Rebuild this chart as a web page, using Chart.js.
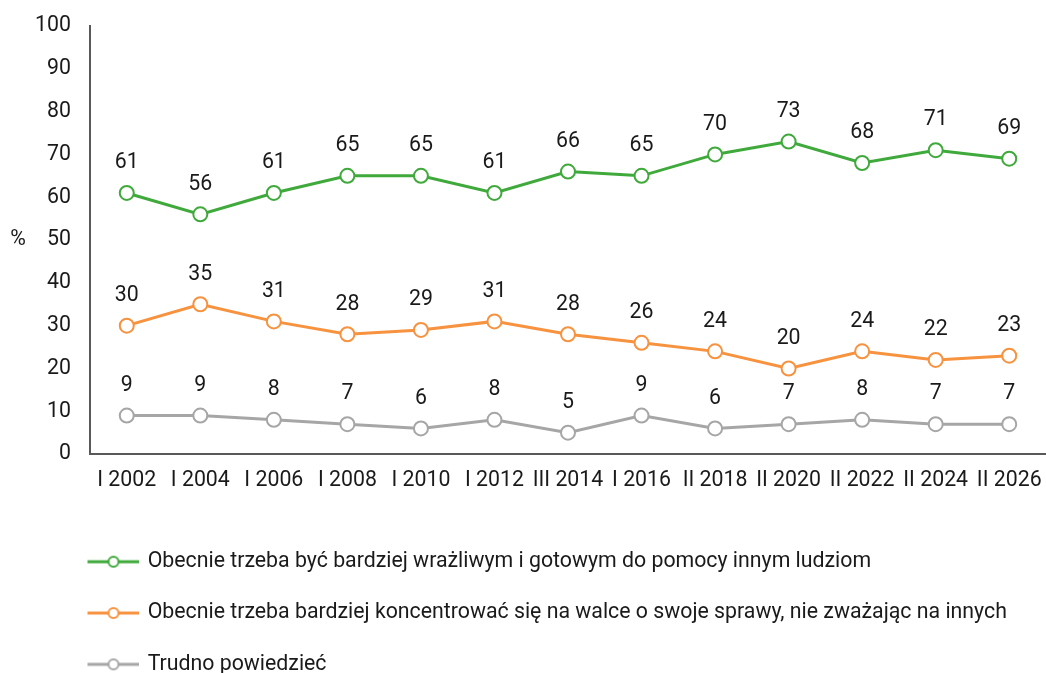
<!DOCTYPE html>
<html>
<head>
<meta charset="utf-8">
<script src="https://cdn.jsdelivr.net/npm/chart.js@4"></script>
<style>
  html, body { margin: 0; padding: 0; background: #fff; overflow: hidden; }
  #wrap { width: 1046px; height: 685px; position: relative; }
</style>
</head>
<body>
<div id="wrap"><canvas id="chart"></canvas></div>
<script>
const labels = ['I 2002', 'I 2004', 'I 2006', 'I 2008', 'I 2010', 'I 2012', 'III 2014', 'I 2016', 'II 2018', 'II 2020', 'II 2022', 'II 2024', 'II 2026'];
const sensitive = [61, 56, 61, 65, 65, 61, 66, 65, 70, 73, 68, 71, 69];
const ownAffairs = [30, 35, 31, 28, 29, 31, 28, 26, 24, 20, 24, 22, 23];
const hardToSay = [9, 9, 8, 7, 6, 8, 5, 9, 6, 7, 8, 7, 7];

const green = '#3faa3b';
const orange = '#f7923f';
const grey = '#a6a6a6';
const font = 'Roboto';
const fontSize = 21.3;
const textColor = '#1a1a1a';

// legend marker: line with an open circle, transparent left part pushes it to the right
function legendIcon(color) {
  const c = document.createElement('canvas');
  c.width = 110;
  c.height = 14;
  const g = c.getContext('2d');
  g.strokeStyle = color;
  g.lineWidth = 3;
  g.beginPath();
  g.moveTo(59, 7);
  g.lineTo(110, 7);
  g.stroke();
  g.fillStyle = '#fff';
  g.lineWidth = 2;
  g.beginPath();
  g.arc(85, 7, 5, 0, Math.PI * 2);
  g.fill();
  g.stroke();
  return c;
}

function series(label, data, color) {
  return {
    label: label,
    data: data,
    borderColor: color,
    backgroundColor: '#fff',
    borderWidth: 3,
    pointRadius: 7,
    pointHoverRadius: 7,
    pointBorderWidth: 2,
    pointBackgroundColor: '#fff',
    pointBorderColor: color,
    legendIcon: legendIcon(color),
    tension: 0
  };
}

const valueLabels = {
  id: 'valueLabels',
  afterDatasetsDraw(chart) {
    const ctx = chart.ctx;
    ctx.save();
    ctx.font = fontSize + 'px ' + font;
    ctx.fillStyle = textColor;
    ctx.textAlign = 'center';
    ctx.textBaseline = 'middle';
    chart.data.datasets.forEach((ds, i) => {
      chart.getDatasetMeta(i).data.forEach((pt, j) => {
        ctx.fillText(ds.data[j], pt.x, pt.y - 30);
      });
    });
    // unit label, kept horizontal
    const a = chart.chartArea;
    ctx.fillText('%', 18, (a.top + a.bottom) / 2);
    ctx.restore();
  }
};

new Chart(document.getElementById('chart'), {
  type: 'line',
  data: {
    labels: labels,
    datasets: [
      series('Obecnie trzeba być bardziej wrażliwym i gotowym do pomocy innym ludziom', sensitive, green),
      series('Obecnie trzeba bardziej koncentrować się na walce o swoje sprawy, nie zważając na innych', ownAffairs, orange),
      series('Trudno powiedzieć', hardToSay, grey)
    ]
  },
  options: {
    responsive: true,
    maintainAspectRatio: false,
    animation: false,
    layout: { autoPadding: false, padding: { top: 26, right: -3, left: 0, bottom: 0 } },
    plugins: {
      legend: {
        position: 'bottom',
        align: 'start',
        labels: {
          usePointStyle: true,
          pointStyleWidth: 107,
          padding: 30,
          color: textColor,
          font: { family: font, size: fontSize },
          generateLabels(chart) {
            return chart.data.datasets.map((ds, i) => ({
              text: ds.label,
              pointStyle: ds.legendIcon,
              fillStyle: ds.borderColor,
              strokeStyle: ds.borderColor,
              lineWidth: 0,
              fontColor: textColor,
              datasetIndex: i
            }));
          }
        }
      },
      tooltip: { enabled: false }
    },
    scales: {
      x: {
        offset: true,
        grid: { display: false },
        border: { color: '#595959', width: 2 },
        ticks: {
          color: textColor,
          padding: 6,
          maxRotation: 0,
          autoSkip: false,
          font: { family: font, size: fontSize }
        },
        afterFit(scale) {
          scale.height = 67;
          scale.paddingLeft = 0;
          scale.paddingRight = 0;
        }
      },
      y: {
        min: 0,
        max: 100,
        grid: { display: false, drawTicks: false },
        border: { color: '#595959', width: 2 },
        ticks: {
          stepSize: 10,
          color: textColor,
          padding: 19,
          font: { family: font, size: fontSize }
        },
        afterFit(scale) {
          scale.width = 90;
          scale.paddingTop = 0;
          scale.paddingBottom = 0;
        }
      }
    }
  },
  plugins: [valueLabels]
});
</script>
</body>
</html>
